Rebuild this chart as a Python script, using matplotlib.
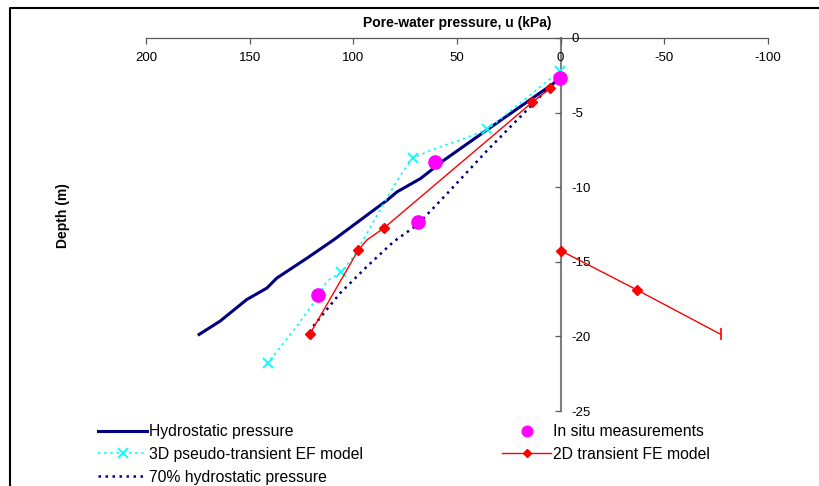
#! /usr/bin/env python3
import numpy as np
import matplotlib
matplotlib.use('Agg')
import matplotlib.pyplot as plt
from matplotlib.lines import Line2D

plt.rcParams['font.family'] = ['Liberation Sans', 'DejaVu Sans']
plt.rcParams['axes.unicode_minus'] = False

# hydrostatic pressure (kPa) vs depth (m)
hydro_u = [1.6, 37.1, 56.4, 67.6, 78.9, 83.7, 93.4, 109.5, 122.4, 136.9, 141.7, 151.4, 164.3, 174.4]
hydro_d = [-2.87, -6.31, -8.2, -9.42, -10.31, -10.87, -11.87, -13.53, -14.76, -16.09, -16.76, -17.53, -18.98, -19.87]

# in situ measurements
insitu_u = [0.3, 60.7, 68.8, 117.1]
insitu_d = [-2.7, -8.3, -12.3, -17.2]

# 3D pseudo-transient EF model
ef_u = [0.3, 35.4, 49.1, 62.8, 71.2, 77.3, 85.4, 93.4, 99.9, 105.8, 112.7, 119.2, 127.2, 141.2]
ef_d = [-2.2, -6.13, -6.87, -7.53, -8.04, -9.2, -11.09, -13.09, -14.64, -15.69, -16.3, -17.76, -19.3, -21.76]
ef_marks = [0, 1, 4, 9, 13]

# 2D transient FE model (two branches)
fe_u = [5.2, 13.7, 85.0, 93.4, 97.7, 121.1, np.nan, 0.0, -37.0, -77.3]
fe_d = [-3.38, -4.31, -12.71, -13.53, -14.24, -19.87, np.nan, -14.25, -16.9, -19.87]
fe_marks = [0, 1, 2, 4, 5, 7, 8]

# 70% hydrostatic pressure
h70_u = [2.4, 35.4, 54.7, 69.2, 80.5, 93.4, 106.3, 119.3, 120.5]
h70_d = [-2.87, -7.53, -10.42, -12.53, -13.64, -15.31, -17.09, -19.31, -19.87]

x_ticks = [200, 150, 100, 50, 0, -50, -100]
y_ticks = [0, -5, -10, -15, -20, -25]

W, H = 820, 486
fig = plt.figure(figsize=(8.2, 4.86), dpi=100)
ax = fig.add_axes([146 / W, 1 - 411 / H, 622 / W, 373 / H])

# outer frame: only top and left edges fall inside the picture
fig.lines.append(Line2D([10 / W, 10 / W, 1.0], [0.0, 1 - 8 / H, 1 - 8 / H],
                        transform=fig.transFigure, color='black', lw=1.5))

l_hydro, = ax.plot(hydro_u, hydro_d, color='#000080', lw=2.2, zorder=3)
l_ef, = ax.plot(ef_u, ef_d, color='#00ffff', lw=1.2, dashes=(1.5, 2.2),
                marker='x', markersize=7, markeredgewidth=1.3, markevery=ef_marks, zorder=4)
l_h70, = ax.plot(h70_u, h70_d, color='#000080', lw=1.8, dashes=(1, 1.8), zorder=3)
l_ins, = ax.plot(insitu_u, insitu_d, 'o', color='#ff00ff', markersize=9.5, zorder=6)
l_fe, = ax.plot(fe_u, fe_d, color='#ff0000', lw=1.0, marker='D', markersize=5,
                markevery=fe_marks, zorder=5)
ax.plot(fe_u[-1:], fe_d[-1:], '|', color='#ff0000', markersize=8, markeredgewidth=1.2, zorder=5)

ax.set_xlim(200, -100)
ax.set_ylim(-25, 0)
ax.set_xticks(x_ticks)
ax.set_yticks(y_ticks)

for s in ['top', 'left']:
    ax.spines[s].set_visible(False)
ax.spines['bottom'].set_position(('data', 0))
ax.spines['bottom'].set_color('#595959')
ax.spines['bottom'].set_linewidth(0.9)
ax.spines['right'].set_position(('data', 0))
ax.spines['right'].set_color('#808080')
ax.spines['right'].set_linewidth(1.5)
ax.spines['bottom'].set_zorder(1)
ax.spines['right'].set_zorder(1)

ax.xaxis.set_ticks_position('bottom')
ax.yaxis.set_ticks_position('right')
ax.tick_params(axis='x', direction='out', length=4, width=0.9, color='#595959',
               labelsize=9.5, pad=6)
ax.tick_params(axis='y', direction='in', length=4, width=0.9, color='#595959',
               labelsize=9.5, pad=8)

ax.xaxis.set_label_position('top')
ax.set_xlabel('Pore-water pressure, u (kPa)', fontsize=10, fontweight='bold', labelpad=8)
fig.text(63 / W, 1 - 216 / H, 'Depth (m)', rotation=90, fontsize=10,
         fontweight='bold', ha='center', va='center')

leg_kw = dict(loc='upper left', bbox_transform=fig.transFigure, frameon=False,
              fontsize=11.3, borderpad=0, borderaxespad=0, handlelength=3.15,
              handletextpad=0.12, labelspacing=0.5, numpoints=1)
leg1 = ax.legend([l_hydro, l_ef, l_h70],
                 ['Hydrostatic pressure', '3D pseudo-transient EF model', '70% hydrostatic pressure'],
                 bbox_to_anchor=(98 / W, 1 - 424 / H), **leg_kw)
ax.add_artist(leg1)
leg2 = ax.legend([l_ins, l_fe], ['In situ measurements', '2D transient FE model'],
                 bbox_to_anchor=(502 / W, 1 - 424 / H), markerscale=0.8, **leg_kw)

fig.savefig('out.png', dpi=100)
